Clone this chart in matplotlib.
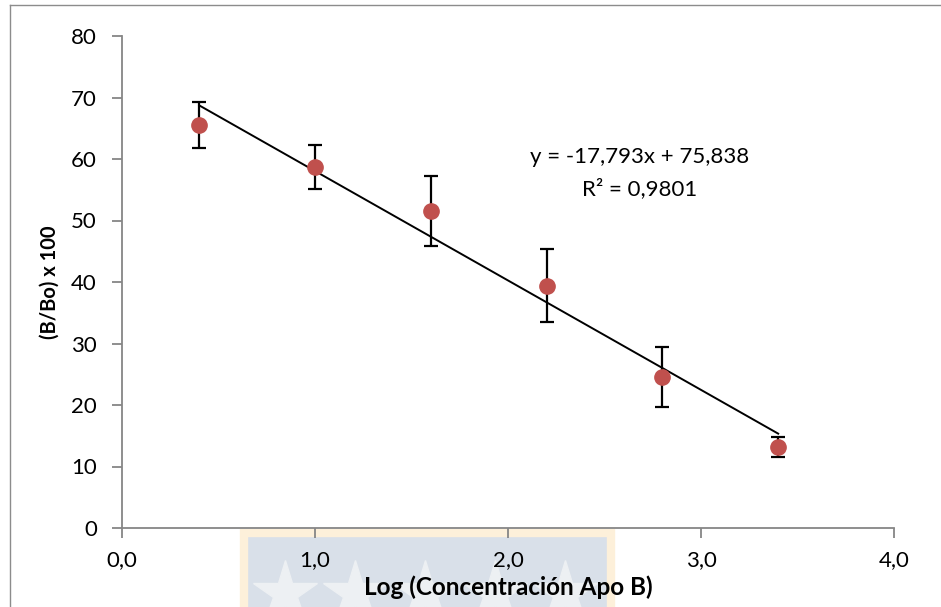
import matplotlib.pyplot as plt
from matplotlib.patches import Rectangle
from matplotlib.lines import Line2D
from matplotlib.ticker import FuncFormatter, MultipleLocator

plt.rcParams["font.family"] = ["Lato", "DejaVu Sans"]

# ========= DATA
log_conc = [0.4, 1.0, 1.6, 2.2, 2.8, 3.4]
b_bo = [65.5, 58.7, 51.5, 39.4, 24.6, 13.2]
err = [3.7, 3.6, 5.7, 5.9, 4.9, 1.6]

slope = -17.793
intercept = 75.838
r2 = 0.9801

# ========= FIGURE
fig = plt.figure(figsize=(9.41, 6.07), dpi=100)

# borde del área del gráfico (estilo Excel)
fig.add_artist(Line2D([10 / 941, 10 / 941], [1 - 5 / 607, -0.1],
                      transform=fig.transFigure, color="#8c8c8c", lw=1))
fig.add_artist(Line2D([10 / 941, 1.1], [1 - 5 / 607, 1 - 5 / 607],
                      transform=fig.transFigure, color="#8c8c8c", lw=1))

# marca de agua (logo) bajo el eje x
fig.add_artist(Rectangle((244 / 941, -0.02), 367 / 941, (607 - 533) / 607 + 0.02,
                         transform=fig.transFigure, facecolor="#d9e0e9",
                         edgecolor="#fdf0da", lw=6, zorder=0))
fig.add_artist(Line2D([x / 941 for x in [285, 355, 425, 495, 565]], [14 / 607] * 5,
                      transform=fig.transFigure, ls="none", marker="*",
                      markersize=48, color="#edf0f3", zorder=0.1))

ax = fig.add_axes([122 / 941, 1 - 528 / 607, (894 - 122) / 941, (528 - 36) / 607])
ax.set_zorder(1)
ax.patch.set_alpha(0)

ax.errorbar(log_conc, b_bo, yerr=err, fmt="o", color="#c0504d",
            markersize=11, ecolor="black", elinewidth=1.6, capsize=5,
            capthick=1.6, zorder=3)

x_fit = [min(log_conc), max(log_conc)]
y_fit = [slope * v + intercept for v in x_fit]
ax.plot(x_fit, y_fit, color="black", lw=1.4, zorder=2)

ax.text(0.67, 0.755,
        f"y = {slope:.3f}x + {intercept:.3f}".replace(".", ","),
        transform=ax.transAxes, ha="center", va="center", fontsize=16)
ax.text(0.67, 0.69, f"R² = {r2:.4f}".replace(".", ","),
        transform=ax.transAxes, ha="center", va="center", fontsize=16)

ax.set_xlim(0, 4)
ax.set_ylim(0, 80)
ax.xaxis.set_major_locator(MultipleLocator(1))
ax.yaxis.set_major_locator(MultipleLocator(10))
ax.xaxis.set_major_formatter(FuncFormatter(lambda v, p: f"{v:.1f}".replace(".", ",")))
ax.yaxis.set_major_formatter(FuncFormatter(lambda v, p: f"{v:.0f}"))

for s in ["top", "right"]:
    ax.spines[s].set_visible(False)
for s in ["left", "bottom"]:
    ax.spines[s].set_color("#868686")
    ax.spines[s].set_linewidth(1.3)
ax.tick_params(direction="out", length=7, width=1.3, color="#868686",
               labelsize=16)
ax.tick_params(axis="y", pad=11)
ax.tick_params(axis="x", pad=9)

ax.set_xlabel("Log (Concentración Apo B)", fontsize=17.5, fontweight="bold",
              labelpad=4)
ax.set_ylabel("(B/Bo) x 100", fontsize=14.5, fontweight="bold", labelpad=8)

fig.savefig("out.png", dpi=100)
